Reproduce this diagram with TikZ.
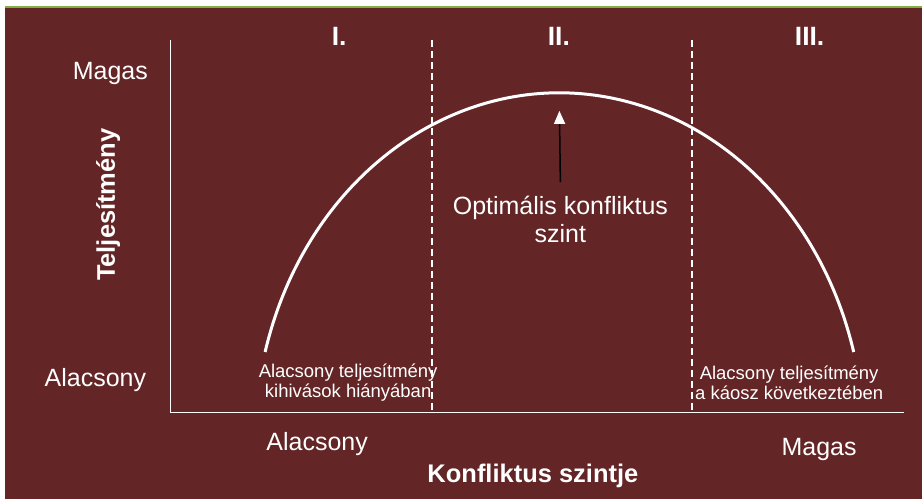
\documentclass[tikz,border=0pt]{standalone}
\usepackage{fontspec}
\setmainfont{Liberation Sans}
\usetikzlibrary{arrows.meta}
\definecolor{bordo}{HTML}{632526}
\definecolor{zold}{HTML}{7FAF45}

\begin{document}
\begin{tikzpicture}[x=1pt, y=1pt,
    every node/.style={text=white, inner sep=0pt},
    tengely/.style={white, line width=1.2pt},
    hatar/.style={white, line width=2pt, dash pattern=on 7pt off 4pt},
    gorbe/.style={white, line width=3pt},
    felirat/.style={font=\fontsize{25}{28}\selectfont, anchor=base},
    cim/.style={font=\bfseries\fontsize{25.5}{28}\selectfont, anchor=base},
    szam/.style={font=\bfseries\fontsize{26.5}{28}\selectfont, anchor=base},
    kicsi/.style={font=\fontsize{18.5}{20}\selectfont, align=center, anchor=base},
    nyil/.style={black, line width=1.5pt, -{Triangle[length=13pt, width=11pt, color=white]}}]
    % Hatter
    \fill[white] (0,0) rectangle (923,500);
    \fill[bordo] (5,0) rectangle (923,492);
    \draw[zold, line width=2pt] (5,493) -- (923,493);
    % Tengelyek
    \coordinate (o) at (171,87);
    \coordinate (yveg) at (171,460);
    \coordinate (xveg) at (905,87);
    \draw[tengely] (yveg) -- (o) -- (xveg);
    % Szakaszhatarok
    \foreach \x in {432,693}
        \draw[hatar] (\x,460) -- (\x,87);
    % Teljesitmenygorbe
    \draw[gorbe] (265.4,147.6) arc[start angle=165, end angle=15, x radius=305, y radius=350];
    \coordinate (csucs) at (560,389);
    % Szakaszok
    \node[szam] (sz1) at (339.5,454) {I.};
    \node[szam] (sz2) at (559.5,454) {II.};
    \node[szam] (sz3) at (810.5,454) {III.};
    % Tengelyfeliratok
    \node[felirat] (ymagas) at (110.5,420) {Magas};
    \node[felirat] (yalacsony) at (95.5,113) {Alacsony};
    \node[cim, rotate=90] (ycim) at (115,295) {Teljesítmény};
    \node[felirat] (xalacsony) at (317.5,49) {Alacsony};
    \node[felirat] (xmagas) at (820,44) {Magas};
    \node[cim] (xcim) at (533.5,17) {Konfliktus szintje};
    % Megjegyzesek
    \node[kicsi] (bal) at (348.5,102) {Alacsony teljesítmény\\kihivások hiányában};
    \node[kicsi] (jobb) at (790,100) {Alacsony teljesítmény\\a káosz következtében};
    \node[felirat, align=center, font=\fontsize{25}{28}\selectfont] (opt) at (561,257) {Optimális konfliktus\\szint};
    \draw[nyil] ([yshift=14pt]opt.north) -- (csucs);
\end{tikzpicture}
\end{document}
